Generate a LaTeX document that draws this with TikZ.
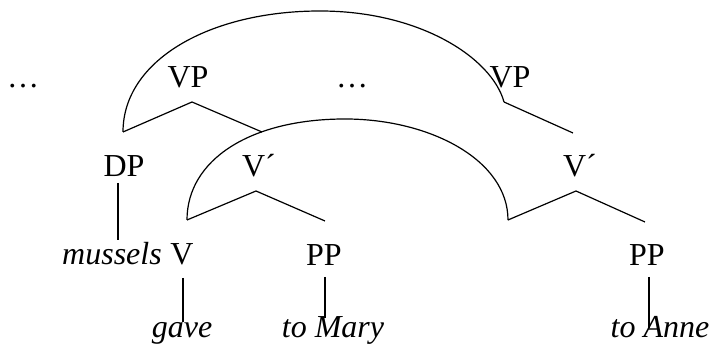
\documentclass[tikz,border=0pt]{standalone}
\usepackage{fontspec}
\setmainfont{Liberation Serif}
\begin{document}
\begin{tikzpicture}[x=0.5pt,y=-0.5pt,line width=0.6pt,
  lbl/.style={anchor=base,inner sep=0pt,font=\fontsize{16}{19}\selectfont},
  ilbl/.style={lbl,font=\fontsize{16}{19}\selectfont\itshape}]
\useasboundingbox (0,0) rectangle (709,356);
% labels
\node[lbl] (dotsA) at (23,88) {…};
\node[lbl] (vpA) at (188,88) {VP};
\node[lbl] (dotsB) at (352,88) {…};
\node[lbl] (vpB) at (510,88) {VP};
\node[lbl] (dp) at (124,177) {DP};
\node[lbl] (vbarA) at (259,177) {V´};
\node[lbl] (vbarB) at (580,177) {V´};
\node[ilbl] (mussels) at (112,265) {mussels};
\node[lbl] (v) at (182,265) {V};
\node[lbl] (ppA) at (324,266) {PP};
\node[lbl] (ppB) at (647,266) {PP};
\node[ilbl] (gave) at (182,338) {gave};
\node[ilbl] (tomary) at (333,338) {to Mary};
\node[ilbl] (toanne) at (660,338) {to Anne};
% branch points
\coordinate (apA) at (192,102);
\coordinate (lA) at (123,132);
\coordinate (rA) at (262,132);
\coordinate (apB) at (504,102);
\coordinate (rB) at (573,133);
\coordinate (apC) at (256,191);
\coordinate (lC) at (187,220);
\coordinate (rC) at (325,221);
\coordinate (apD) at (576,191);
\coordinate (lD) at (508,220);
\coordinate (rD) at (645,222);
\coordinate (dpT) at (118,183);
\coordinate (dpB) at (118,240);
\coordinate (vT) at (183,278);
\coordinate (vB) at (183,322);
\coordinate (ppAT) at (325,277);
\coordinate (ppAB) at (325,318);
\coordinate (ppBT) at (649,277);
\coordinate (ppBB) at (649,328);
\coordinate (topA) at (320,11);
\coordinate (topB) at (345,119);
% tree lines
\draw (lA) -- (apA) -- (rA);
\draw (apB) -- (rB);
\draw (lC) -- (apC) -- (rC);
\draw (lD) -- (apD) -- (rD);
\draw (dpT) -- (dpB);
\draw (vT) -- (vB);
\draw (ppAT) -- (ppAB);
\draw (ppBT) -- (ppBB);
% arcs
\draw (lA) .. controls (123,60) and (210,11) .. (topA)
      .. controls (420,11) and (492,58) .. (apB);
\draw (lC) .. controls (187,160) and (250,119) .. (topB)
      .. controls (430,119) and (508,160) .. (lD);
\end{tikzpicture}
\end{document}
